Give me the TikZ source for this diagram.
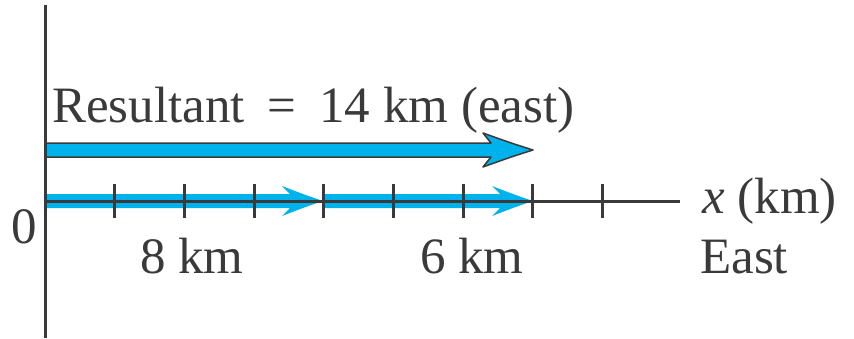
\documentclass[tikz,border=0pt]{standalone}
\usepackage{fontspec}
\setmainfont{Liberation Serif}
\usepackage{tikz}
\usetikzlibrary{calc}
\definecolor{vecblue}{RGB}{0,178,235}
\definecolor{axisgray}{RGB}{58,58,58}
% fat vector: style, tip, length, half band, head length, half head
\newcommand{\fatvec}[6]{%
  \path[#1,shift={(#2)}] (-#3,-#4) -- (-#5+8,-#4) -- (-#5,-#6)
    .. controls (-#5*0.45,-#6*0.42) .. (0,0)
    .. controls (-#5*0.45,#6*0.42) .. (-#5,#6) -- (-#5+8,#4) -- (-#3,#4) -- cycle;}

\begin{document}
\begin{tikzpicture}[x=1pt,y=-1pt,
  axis/.style={draw=axisgray,line width=3pt},
  lbl/.style={text=axisgray,inner sep=0pt,anchor=base west,font=\fontsize{51}{60}\selectfont}]
  \useasboundingbox (0,0) rectangle (854,338);
  \coordinate (O) at (45,201);
  \coordinate (A) at (323,201);
  \coordinate (B) at (533,201);
  \coordinate (R) at (533,150);
  % vectors along the axis
  \fatvec{fill=vecblue}{A}{278}{7}{41}{15}
  \fatvec{fill=vecblue}{B}{210}{7}{41}{15}
  % resultant
  \fatvec{fill=vecblue,draw=axisgray,line width=1.5pt,line join=round}{R}{488}{7}{50}{17}
  % axes
  \draw[axis] (45,5) -- (45,338);
  \draw[axis] (O) -- (680,201);
  \foreach \k in {1,...,8}
    \draw[axis] ([shift={(\k*69.7,-17)}]O) -- ++(0,34);
  % labels
  \node[lbl] (res) at (52,122) {Resultant\hspace{0.45em}=\hspace{0.45em}14 km (east)};
  \node[lbl] (zero) at (11,243) {0};
  \node[lbl] (eight) at (140,273) {8 km};
  \node[lbl] (six) at (420,273) {6 km};
  \node[lbl] (xlab) at (702,213) {\textit{x} (km)};
  \node[lbl] (east) at (700,273) {East};
\end{tikzpicture}
\end{document}
